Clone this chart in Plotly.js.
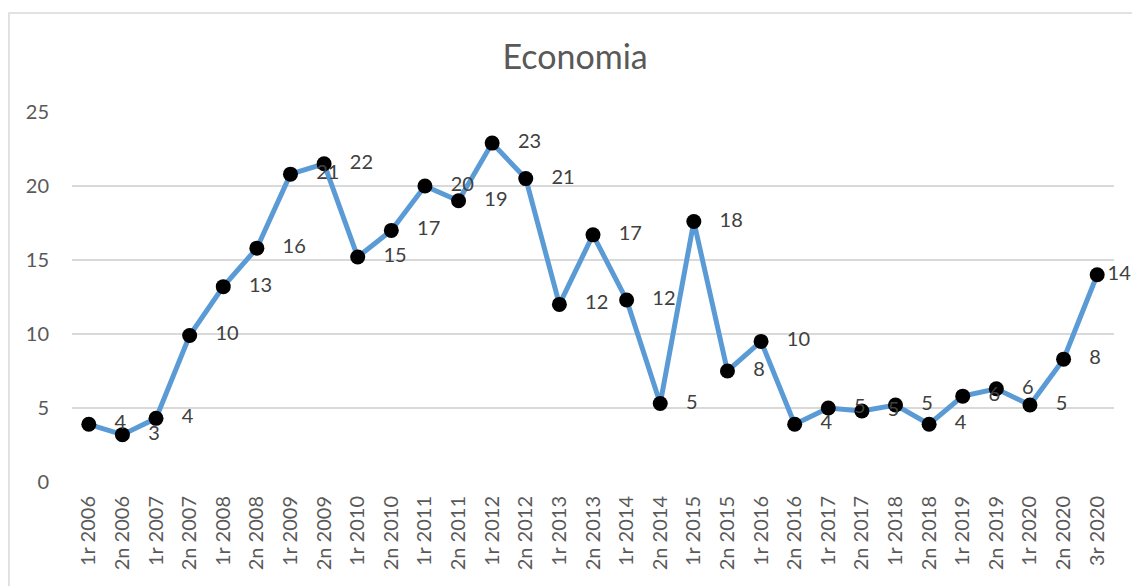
<!DOCTYPE html>
<html>
<head>
<meta charset="utf-8">
<script src="https://cdn.plot.ly/plotly-3.0.1.min.js"></script>
<style>
  html, body { margin: 0; padding: 0; background: #fff; }
  #chart { width: 1132px; height: 586px; }
</style>
</head>
<body>
<div id="chart"></div>
<script>
// Economia - semesters 2006..2020
const periods = [
    '1r 2006', '2n 2006', '1r 2007', '2n 2007', '1r 2008', '2n 2008',
    '1r 2009', '2n 2009', '1r 2010', '2n 2010', '1r 2011', '2n 2011',
    '1r 2012', '2n 2012', '1r 2013', '2n 2013', '1r 2014', '2n 2014',
    '1r 2015', '2n 2015', '1r 2016', '2n 2016', '1r 2017', '2n 2017',
    '1r 2018', '2n 2018', '1r 2019', '2n 2019', '1r 2020', '2n 2020',
    '3r 2020'
];
const values = [
    3.9, 3.2, 4.3, 9.9, 13.2, 15.8,
    20.8, 21.5, 15.2, 17.0, 20.0, 19.0,
    22.9, 20.5, 12.0, 16.7, 12.3, 5.3,
    17.6, 7.5, 9.5, 3.9, 5.0, 4.8,
    5.2, 3.9, 5.8, 6.3, 5.2, 8.3,
    14.0
];
// last label is pulled in so it stays inside the frame
const labels = values.map((v, i) => (i === values.length - 1 ? '' : '   ') + Math.round(v));

const grey = '#595959';
const font = 'Lato, "Liberation Sans", sans-serif';

const trace = {
    x: periods,
    y: values,
    type: 'scatter',
    mode: 'lines+markers+text',
    line: { color: '#5B9BD5', width: 5 },
    marker: { color: '#000000', size: 15 },
    text: labels,
    textposition: 'middle right',
    textfont: { family: font, size: 20, color: '#404040' },
    cliponaxis: false,
    hoverinfo: 'x+y',
};

const layout = {
    width: 1132,
    height: 586,
    paper_bgcolor: '#ffffff',
    plot_bgcolor: '#ffffff',
    font: { family: font, color: grey, size: 20 },
    margin: { t: 112, b: 104, l: 72, r: 18 },
    showlegend: false,
    title: {
        text: 'Economia',
        font: { family: font, size: 34, color: grey },
        x: 0.508, xref: 'container', xanchor: 'center',
        y: 0.902, yref: 'container', yanchor: 'middle',
    },
    xaxis: {
        type: 'category',
        range: [-0.5, periods.length - 0.5],
        tickangle: -90,
        tickfont: { family: font, size: 20, color: grey },
        showgrid: false,
        zeroline: false,
        showline: false,
        ticks: '',
        ticklen: 0,
        ticklabelstandoff: 9,
    },
    yaxis: {
        range: [0, 25],
        dtick: 5,
        tickfont: { family: font, size: 20, color: grey },
        gridcolor: '#d9d9d9',
        gridwidth: 1.5,
        zeroline: false,
        showline: false,
        ticks: '',
        ticklabelstandoff: 22,
    },
    shapes: [{
        type: 'rect',
        xref: 'paper', yref: 'paper',
        x0: -0.0605, x1: 1.05,
        y0: -0.4, y1: 1.2676,
        line: { color: '#d9d9d9', width: 1.5 },
        layer: 'below',
    }],
};

Plotly.newPlot('chart', [trace], layout, { displayModeBar: false, responsive: false });
</script>
</body>
</html>
